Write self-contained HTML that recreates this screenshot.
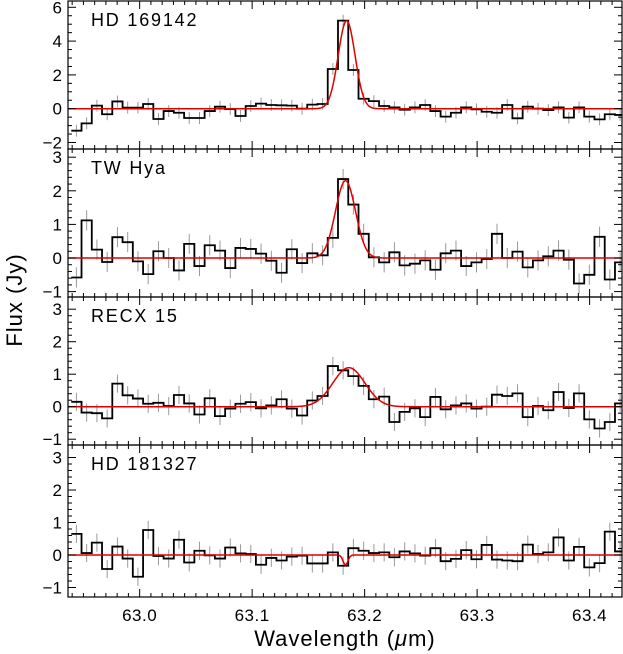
<!DOCTYPE html>
<html><head><meta charset="utf-8"><style>
html,body{margin:0;padding:0;background:#fff;}
svg{display:block;font-family:"Liberation Sans",sans-serif;}
</style></head><body>
<svg id="chart" width="623" height="654" viewBox="0 0 623 654"></svg>
<script>
const xTicks = [63.0, 63.1, 63.2, 63.3, 63.4];
const xTickLabels = ["63.0", "63.1", "63.2", "63.3", "63.4"];
const binStart = 62.9392;
const binWidth = 0.00912;
const names = ["HD 169142", "TW Hya", "RECX 15", "HD 181327"];
const flux1 = [-1.30,-0.87,0.18,-0.33,0.43,0.06,0.06,0.28,-0.61,-0.14,-0.24,-0.55,-0.55,-0.14,0.12,-0.02,-0.43,0.16,0.30,0.22,0.20,0.18,0.0,0.24,0.28,2.35,5.21,2.29,0.59,0.45,0.16,0.08,-0.06,0.08,0.22,-0.14,-0.47,-0.24,0.08,-0.04,-0.18,-0.24,0.22,-0.57,0.12,0.0,-0.08,0.08,-0.53,0.08,-0.47,-0.63,-0.33,-0.37];
const flux2 = [-0.58,1.12,0.25,-0.12,0.62,0.47,-0.10,-0.48,0.20,0.0,-0.37,0.42,-0.24,0.38,0.22,-0.30,0.30,0.27,0.13,-0.08,-0.44,0.26,-0.15,0.14,0.08,0.60,2.35,1.59,0.72,0.02,-0.13,0.17,-0.22,-0.17,-0.07,-0.35,0.14,0.22,-0.24,-0.13,-0.03,0.72,0.0,0.19,-0.28,-0.07,0.05,0.22,-0.05,-0.76,-0.50,0.63,-0.64,-0.13];
const flux3 = [0.15,-0.18,-0.20,-0.36,0.71,0.35,0.25,0.09,0.12,0.02,0.36,0.10,-0.24,0.26,-0.29,-0.06,0.09,0.14,-0.05,0.04,0.23,-0.06,-0.27,0.19,0.33,1.25,1.12,0.94,0.64,0.23,0.31,-0.47,-0.16,-0.05,-0.32,0.30,-0.08,0.04,0.10,-0.06,0.0,0.37,0.33,0.41,-0.32,0.02,-0.11,0.45,-0.04,0.41,-0.39,-0.67,-0.47,0.10];
const flux4 = [0.65,0.06,0.38,-0.43,0.26,-0.11,-0.67,0.77,-0.03,-0.11,0.47,-0.23,0.13,-0.01,-0.11,0.23,0.05,0.03,-0.30,-0.09,-0.17,-0.05,-0.02,-0.26,-0.26,0.08,-0.33,0.21,0.13,0.06,0.08,-0.07,0.11,0.05,-0.02,0.21,-0.19,-0.12,0.15,-0.13,0.31,-0.14,-0.17,-0.19,0.32,0.03,0.08,0.54,-0.17,0.25,-0.38,-0.25,0.72,0.11];
const errors = [0.35, 0.3, 0.28, 0.28];
const fitAmp = [5.2, 2.3, 1.2, -0.3];
const fitCenter = [63.184, 63.183, 63.186, 63.183];
const fitSigma = [0.0075, 0.0089, 0.0143, 0.0022];
const yTickVals = [[-2,0,2,4,6],[-1,0,1,2,3],[-1,0,1,2,3],[-1,0,1,2,3]];
const yMinorStep = [0.5, 0.2, 0.2, 0.2];
const fluxes = [flux1, flux2, flux3, flux4];

const NS = "http://www.w3.org/2000/svg";
const svg = document.getElementById("chart");
const X0 = 68, X1 = 622, XMIN = 62.9363, XMAX = 63.4288;
const panels = [
  {top:1, bot:149, zero:108.7, scale:16.9},
  {top:149, bot:297, zero:258, scale:33.6},
  {top:297, bot:445, zero:406.7, scale:32.5},
  {top:445, bot:597, zero:555, scale:32.5}
];
function xs(w){ return X0 + (w - XMIN) / (XMAX - XMIN) * (X1 - X0); }
function mk(tag, attrs, parent){ const e = document.createElementNS(NS, tag); for (const k in attrs) e.setAttribute(k, attrs[k]); (parent||svg).appendChild(e); return e; }

const defs = mk("defs", {});
panels.forEach((p, i) => {
  const cp = mk("clipPath", {id: "cp"+i}, defs);
  mk("rect", {x: X0, y: p.top, width: X1 - X0, height: p.bot - p.top}, cp);
});

panels.forEach((p, i) => {
  const ys = v => p.zero - v * p.scale;
  const g = mk("g", {});
  
  
  const inner = mk("g", {"clip-path": "url(#cp"+i+")"}, g);
  const data = fluxes[i];
  data.forEach((v, k) => {
    const c = xs(binStart + (k + 0.5) * binWidth);
    const eb = mk("line", {x1: c, x2: c, y1: ys(v - errors[i]), y2: ys(v + errors[i]), stroke: "#999", "stroke-width": 1}, inner);
    
    
  });
  let d = "";
  data.forEach((v, k) => {
    const a = xs(binStart + k * binWidth), b = xs(binStart + (k + 1) * binWidth);
    d += (k === 0 ? "M" + a + "," + ys(v) : "L" + a + "," + ys(v)) + "L" + b + "," + ys(v);
  });
  const hist = mk("path", {d: d, fill: "none", stroke: "#000", "stroke-width": 1.8}, inner);
  
  
  let fd = "";
  for (let px = X0; px <= X1; px += 0.5) {
    const w = XMIN + (px - X0) / (X1 - X0) * (XMAX - XMIN);
    const v = fitAmp[i] * Math.exp(-0.5 * Math.pow((w - fitCenter[i]) / fitSigma[i], 2));
    fd += (px === X0 ? "M" : "L") + px + "," + ys(v);
  }
  const fit = mk("path", {d: fd, fill: "none", stroke: "#e00000", "stroke-width": 1.5}, inner);
  
  
  const fr = mk("rect", {x: X0, y: p.top, width: X1 - X0, height: p.bot - p.top, fill: "none", stroke: "#000", "stroke-width": 1.2}, g);
  
  
  const yt = yTickVals[i];
  for (let v = yt[0]; v <= yt[yt.length-1] + 1e-9; v += yMinorStep[i]) {
    const y = ys(v);
    if (y < p.top || y > p.bot) continue;
    const major = Math.abs(v - Math.round(v)) < 1e-6 && yt.includes(Math.round(v));
    const len = major ? 8 : 4;
    mk("line", {x1: X0, x2: X0 + len, y1: y, y2: y, stroke: "#000", "stroke-width": 1}, g);
    mk("line", {x1: X1 - len, x2: X1, y1: y, y2: y, stroke: "#000", "stroke-width": 1}, g);
  }
  yt.forEach(v => {
    const t = mk("text", {x: 62, y: ys(v) + 6, "text-anchor": "end", "font-size": 17}, g);
    t.textContent = v < 0 ? "\u2212" + (-v) : String(v);
    
    
  });
  for (let k = 0; k <= 50; k++) {
    const w = 62.94 + k * 0.01;
    if (w > XMAX) break;
    const x = xs(w);
    const major = k % 10 === 6;
    const len = major ? 8 : 4;
    mk("line", {x1: x, x2: x, y1: p.bot - len, y2: p.bot, stroke: "#000", "stroke-width": 1}, g);
    mk("line", {x1: x, x2: x, y1: p.top, y2: p.top + len, stroke: "#000", "stroke-width": 1}, g);
  }
  const nm = mk("text", {x: 91, y: p.top + 25, "font-size": 18, "letter-spacing": "1.8"}, g);
  nm.textContent = names[i];
  
  
});

xTicks.forEach((w, k) => {
  const t = mk("text", {x: xs(w), y: 621, "text-anchor": "middle", "font-size": 17, "letter-spacing": "0.5"});
  t.textContent = xTickLabels[k];
  
  
});
const xt = mk("text", {x: 345, y: 646, "text-anchor": "middle", "font-size": 22, "letter-spacing": "1"});
xt.innerHTML = 'Wavelength (<tspan font-style="italic">\u03bc</tspan>m)';


const yt = mk("text", {x: 0, y: 0, "text-anchor": "middle", "font-size": 22, transform: "translate(22,300) rotate(-90)", "letter-spacing": "1"});
yt.textContent = "Flux (Jy)";


</script>
</body></html>
